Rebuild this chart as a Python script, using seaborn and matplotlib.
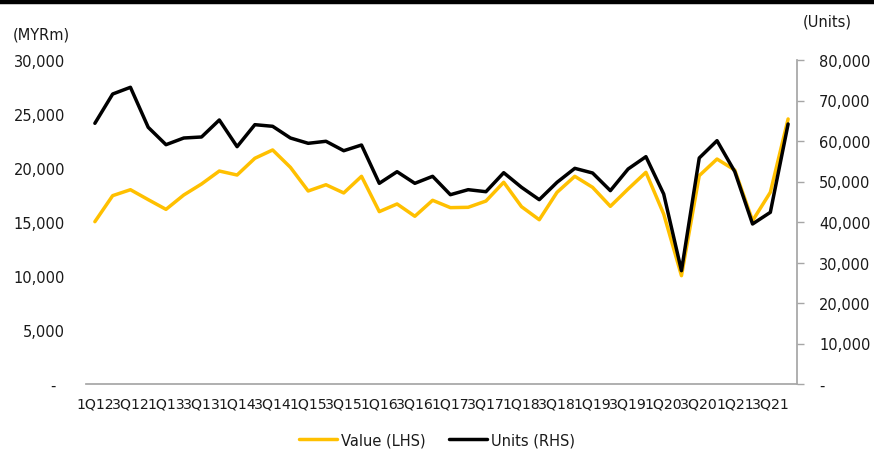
import matplotlib
matplotlib.use("Agg")
import matplotlib.pyplot as plt
from matplotlib.lines import Line2D
import seaborn as sns
import pandas as pd
import numpy as np

quarters = [f"{q}Q{y}" for y in range(12, 22) for q in range(1, 5)]

value_lhs = [15030, 17440, 17990, 17070, 16170, 17500, 18520, 19720, 19350, 20900,
             21670, 20060, 17870, 18450, 17690, 19230, 15960, 16670, 15530, 17010,
             16330, 16360, 16940, 18680, 16420, 15210, 17750, 19230, 18210, 16450,
             18060, 19600, 15740, 10030, 19290, 20830, 19810, 15120, 17750, 24540]

units_rhs = [64370, 71600, 73260, 63380, 59090, 60740, 60990, 65190, 58600, 64030,
             63630, 60740, 59430, 59930, 57600, 59010, 49550, 52420, 49550, 51280,
             46740, 47980, 47480, 52170, 48570, 45510, 49800, 53250, 52100, 47740,
             53090, 56130, 46910, 27980, 55800, 60080, 52430, 39510, 42390, 64200]

left_ticks = [0, 5000, 10000, 15000, 20000, 25000, 30000]
left_labels = ["-  ", "5,000", "10,000", "15,000", "20,000", "25,000", "30,000"]
right_ticks = [0, 10000, 20000, 30000, 40000, 50000, 60000, 70000, 80000]
right_labels = ["-", "10,000", "20,000", "30,000", "40,000", "50,000", "60,000",
                "70,000", "80,000"]

df = pd.DataFrame({"idx": np.arange(len(quarters)), "quarter": quarters,
                   "value": value_lhs, "units": units_rhs})

sns.set_theme(style="white")
plt.rcParams["font.family"] = ["DejaVu Sans"]

YELLOW = "#FFC000"
GRAY = "#A6A6A6"
TXT = "#1a1a1a"

fig = plt.figure(figsize=(8.74, 4.52), dpi=100)
ax = fig.add_axes([86 / 874, 1 - 385 / 452, (797 - 86) / 874, (385 - 61) / 452])
ax2 = ax.twinx()

sns.lineplot(data=df, x="idx", y="value", ax=ax, color=YELLOW, linewidth=2.5,
             label="Value (LHS)", legend=False)
sns.lineplot(data=df, x="idx", y="units", ax=ax2, color="black", linewidth=2.5,
             label="Units (RHS)", legend=False)

ax.set_xlim(-0.5, len(quarters) - 0.5)
ax.set_ylim(0, 30000)
ax2.set_ylim(0, 80000)

ax.set_xticks(df["idx"][::2])
ax.set_xticklabels(quarters[::2], fontsize=10.2, color=TXT)
ax.set_yticks(left_ticks)
ax.set_yticklabels(left_labels, fontsize=10.5, color=TXT)
ax2.set_yticks(right_ticks)
ax2.set_yticklabels(right_labels, fontsize=10.5, color=TXT)

ax.set_xlabel("")
ax.set_ylabel("")
ax2.set_ylabel("")

for a in (ax, ax2):
    for s in ("top", "left", "right"):
        a.spines[s].set_visible(False)
    a.spines["bottom"].set_color(GRAY)
    a.grid(False)
ax2.spines["right"].set_visible(True)
ax2.spines["right"].set_color(GRAY)
ax2.spines["bottom"].set_visible(False)

ax.tick_params(axis="x", length=0, pad=9)
ax.tick_params(axis="y", length=0, pad=15)
ax2.tick_params(axis="y", length=5, width=1, color=GRAY, pad=11, direction="out")

fig.text(13 / 874, 1 - 35 / 452, "(MYRm)", fontsize=10.5, color=TXT, va="center", ha="left")
fig.text(803 / 874, 1 - 22 / 452, "(Units)", fontsize=10.5, color=TXT, va="center", ha="left")

fig.add_artist(Line2D([0, 1], [1 - 3 / 452, 1 - 3 / 452], color="black", linewidth=3.2,
                      transform=fig.transFigure))

handles = [Line2D([], [], color=YELLOW, linewidth=2.5),
           Line2D([], [], color="black", linewidth=2.5)]
fig.legend(handles, ["Value (LHS)", "Units (RHS)"], loc="center",
           bbox_to_anchor=(437 / 874, 1 - 441 / 452), ncol=2, frameon=False,
           fontsize=10.5, handlelength=2.6, columnspacing=1.6, handletextpad=0.3,
           labelcolor=TXT)

fig.savefig("out.png", dpi=100)
